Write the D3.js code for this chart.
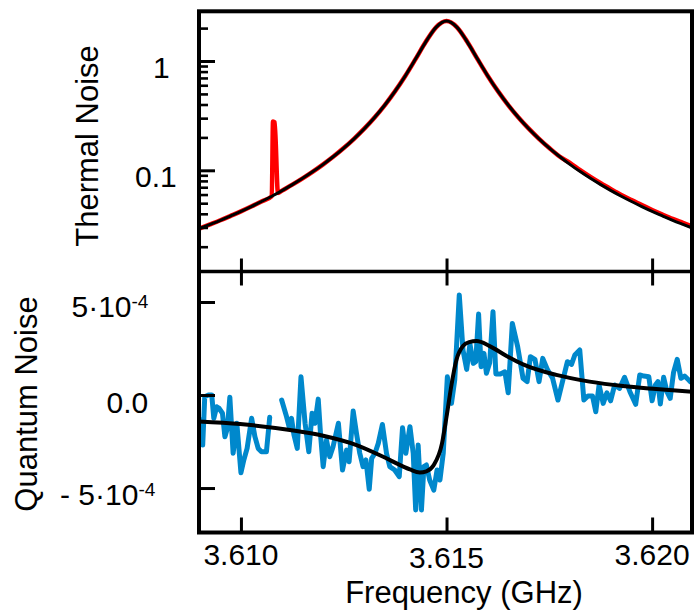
<!DOCTYPE html>
<html><head><meta charset="utf-8">
<script src="https://cdn.jsdelivr.net/npm/d3@7"></script>
<style>
html,body{margin:0;padding:0;background:#fff;}
svg{display:block;}
text{font-family:"Liberation Sans",Arial,Helvetica,sans-serif;fill:#000;}
</style>
</head><body>
<svg id="c" width="694" height="615"></svg>
<script>
// ---------------- DATA ----------------
// Top panel: thermal noise (log scale)
const thermalFreq = [3.60875,3.60900,3.60925,3.60950,3.60975,3.61000,3.61025,3.61050,3.61075,3.61100,
  3.61125,3.61150,3.61175,3.61200,3.61225,3.61250,3.61275,3.61300,3.61325,3.61350,
  3.61375,3.61400,3.61425,3.61450,3.61475,3.61500,3.61525,3.61550,3.61575,3.61600,
  3.61625,3.61650,3.61675,3.61700,3.61725,3.61750,3.61775,3.61800,3.61825,3.61850,
  3.61875,3.61900,3.61925,3.61950,3.61975,3.62000,3.62025,3.62050,3.62075,3.62100];
const thermalFit = [0.0271,0.0294,0.0320,0.0349,0.0383,0.0421,0.0466,0.0518,0.0579,0.0652,
  0.0739,0.0844,0.0973,0.1134,0.1337,0.1598,0.1942,0.2404,0.3043,0.3955,
  0.5298,0.7336,1.047,1.506,2.044,2.32,2.044,1.506,1.047,0.7336,
  0.5298,0.3955,0.3043,0.2404,0.1942,0.1598,0.1337,0.1134,0.0973,0.0844,
  0.0739,0.0652,0.0579,0.0518,0.0466,0.0421,0.0383,0.0349,0.0320,0.0294];
const thermalDataFreq = [3.60875,3.60900,3.60925,3.60950,3.60975,3.61000,3.61025,3.61050,3.61075,
  3.61078,3.61082,3.61090,
  3.61100,3.61125,3.61150,3.61175,3.61200,3.61225,3.61250,3.61275,3.61300,3.61325,3.61350,
  3.61375,3.61400,3.61425,3.61450,3.61475,3.61500,3.61525,3.61550,3.61575,3.61600,
  3.61625,3.61650,3.61675,3.61700,3.61725,3.61750,3.61775,3.61800,3.61825,3.61850,
  3.61875,3.61900,3.61925,3.61950,3.61975,3.62000,3.62025,3.62050,3.62075,3.62100];
const thermalData = [0.0271,0.0294,0.0320,0.0349,0.0383,0.0421,0.0466,0.0518,0.0579,
  0.28,0.275,0.062,
  0.0652,0.0739,0.0844,0.0973,0.1134,0.1337,0.1598,0.1942,0.2404,0.3043,0.3955,
  0.5298,0.7336,1.047,1.506,2.044,2.32,2.044,1.506,1.047,0.7336,
  0.5298,0.3955,0.3043,0.2404,0.1942,0.1598,0.1337,0.1168,0.1002,0.0869,
  0.0761,0.0672,0.0596,0.0534,0.0480,0.0434,0.0394,0.0359,0.0330,0.0303];

// Bottom panel: quantum noise (units of 1e-4), null = missing point
const quantumFreq = [3.60903,3.60907,3.60912,3.60921,3.60929,3.60934,3.60941,3.60947,3.60955,3.60961,
  3.60967,3.60973,3.60981,3.60990,3.61000,3.61007,3.61015,3.61026,3.61034,3.61042,
  3.61050,3.61062,3.61070,3.61085,
  3.61099,3.61111,3.61117,3.61123,3.61129,3.61137,3.61146,3.61156,3.61165,3.61173,
  3.61180,3.61188,3.61194,3.61200,3.61208,3.61216,3.61224,3.61237,3.61247,3.61257,
  3.61263,3.61273,3.61281,3.61289,3.61297,3.61304,3.61312,3.61318,3.61326,3.61334,
  3.61344,3.61354,3.61362,3.61374,3.61385,3.61393,3.61401,3.61411,3.61419,3.61425,
  3.61431,3.61439,3.61445,3.61451,3.61459,3.61469,3.61477,3.61484,3.61492,3.61502,
  3.61512,3.61520,3.61531,3.61540,3.61549,3.61557,3.61565,3.61571,3.61578,3.61584,
  3.61591,3.61597,3.61605,3.61613,3.61620,3.61631,3.61642,3.61650,3.61660,3.61673,
  3.61686,3.61696,3.61704,3.61715,3.61725,3.61734,3.61746,3.61758,3.61771,3.61782,
  3.61794,3.61804,3.61812,3.61824,3.61834,3.61844,3.61855,3.61863,3.61871,3.61881,
  3.61890,3.61899,3.61909,3.61921,3.61933,3.61946,3.61960,3.61970,3.61980,3.61992,
  3.62000,3.62008,3.62014,3.62020,3.62028,3.62036,3.62044,3.62052,3.62061,3.62070,
  3.62079,3.62089,3.62093];
const quantumData = [-1.34,-2.69,-0.09,0.00,0.00,-1.25,-0.63,-0.72,-0.98,-2.24,
  -1.79,-0.12,-3.13,-1.52,-4.18,-3.49,-2.87,-1.25,-2.24,-2.87,
  -3.05,-3.05,-1.20,null,
  -0.27,-1.17,-1.70,-1.25,-2.15,-2.87,0.98,-1.52,-3.05,-0.98,
  -1.52,-0.22,-2.24,-3.85,-2.42,-3.32,-2.78,-1.52,-4.03,-2.96,
  -3.59,-0.86,-2.06,-3.13,-3.85,-3.49,-5.07,-3.40,-3.13,-2.60,
  -1.58,-3.13,-3.85,-4.03,-4.39,-1.76,-3.13,-1.70,-3.13,-6.18,
  -2.69,-6.18,-3.85,-3.76,-4.57,-5.11,-4.03,-4.57,-3.13,0.98,
  -0.45,0.81,5.38,2.42,1.38,2.74,1.70,1.79,4.35,1.52,
  2.24,1.17,1.74,4.48,1.13,1.13,1.25,0.12,3.85,2.60,
  0.90,0.72,2.06,1.92,0.72,1.97,1.34,0.90,-0.27,0.72,
  1.79,1.65,2.15,2.42,-0.27,-0.05,-0.05,-0.90,0.54,-0.45,
  0.12,-0.31,0.54,0.36,0.95,0.18,-0.50,1.08,1.02,0.98,
  -0.31,0.54,0.72,-0.48,0.95,0.18,-0.18,1.20,1.92,0.90,
  1.02,0.81,0.72];
const quantumFitFreq = [3.60898,3.60998,3.61119,3.61200,3.61281,3.61346,3.61395,3.61411,3.61435,3.61451,
  3.61469,3.61489,3.61500,3.61512,3.61524,3.61540,3.61555,3.61573,3.61605,3.61646,
  3.61686,3.61767,3.61848,3.61929,3.62010,3.62097];
const quantumFit = [-1.42,-1.56,-1.88,-2.19,-2.69,-3.32,-3.85,-4.00,-4.16,-4.10,
  -3.76,-2.60,-1.17,0.54,1.88,2.63,2.84,2.90,2.63,2.10,
  1.65,1.08,0.72,0.48,0.32,0.17];

// Ticks
const freqTicks = [3.610, 3.615, 3.620];
const freqTickLabels = ["3.610", "3.615", "3.620"];
const thermalTicks = [0.1, 1];
const thermalTickLabels = ["0.1", "1"];
const thermalMinorTicks = [0.02,0.03,0.04,0.05,0.06,0.07,0.08,0.09,0.2,0.3,0.4,0.5,0.6,0.7,0.8,0.9,2];
const quantumTicks = [5, 0, -5];
const quantumTickMain = ["5·10", "0.0", "- 5·10"];
const quantumTickExp = ["-4", "", "-4"];

// ---------------- LAYOUT ----------------
const L = {left: 199, right: 692, top: 11.3, mid: 271.5, bottom: 532.5};
const layout = {
  freqLabelBaseline: [565, 568, 565],
  thermalLabelX: [135, 153],
  thermalLabelDy: [16.5, 17.3],
  quantumLabelX: [71.5, 106.5, 60],
  quantumLabelDy: [14.5, 18, 16.7]
};

const svg = d3.select("#c");
const x = d3.scaleLinear().domain([3.60898, 3.62097]).range([L.left, L.right]);
const yT = d3.scaleLog().domain([0.01186, 2.85]).range([L.mid, L.top]);
const yQ = d3.scaleLinear().domain([-7.39, 6.64]).range([L.bottom, L.mid]);

const defs = svg.append("defs");
defs.append("clipPath").attr("id","clipT").append("rect")
  .attr("x", L.left).attr("y", L.top).attr("width", L.right - L.left).attr("height", L.mid - L.top);
defs.append("clipPath").attr("id","clipQ").append("rect")
  .attr("x", L.left).attr("y", L.mid).attr("width", L.right - L.left).attr("height", L.bottom - L.mid);

// ---- top panel lines
const lineT = d3.line().x(d => x(d[0])).y(d => yT(d[1])).curve(d3.curveMonotoneX);
const gT = svg.append("g").attr("clip-path","url(#clipT)");
gT.append("path").datum(d3.zip(thermalDataFreq, thermalData)).attr("d", lineT)
  .attr("fill","none").attr("stroke","#ff0000").attr("stroke-width",4.5).attr("stroke-linejoin","round");
gT.append("path").datum(d3.zip(thermalFreq, thermalFit)).attr("d", lineT)
  .attr("fill","none").attr("stroke","#000").attr("stroke-width",3);

// ---- bottom panel lines
const gQ = svg.append("g").attr("clip-path","url(#clipQ)");
const lineQ = d3.line().defined(d => d[1] !== null).x(d => x(d[0])).y(d => yQ(d[1]));
gQ.append("path").datum(d3.zip(quantumFreq, quantumData)).attr("d", lineQ)
  .attr("fill","none").attr("stroke","#0088cc").attr("stroke-width",5)
  .attr("stroke-linejoin","round").attr("stroke-linecap","round");
const lineQF = d3.line().x(d => x(d[0])).y(d => yQ(d[1])).curve(d3.curveMonotoneX);
gQ.append("path").datum(d3.zip(quantumFitFreq, quantumFit)).attr("d", lineQF)
  .attr("fill","none").attr("stroke","#000").attr("stroke-width",4);

// ---- axes (tick marks)
function styleAxis(g, w) {
  g.select(".domain").remove();
  g.selectAll(".tick line").attr("stroke","#000").attr("stroke-width", w);
  g.selectAll(".tick text").remove();
}
svg.append("g").attr("transform",`translate(0,${L.mid})`)
  .call(d3.axisTop(x).tickValues(freqTicks).tickSize(13).tickFormat("")).call(g => styleAxis(g, 3));
svg.append("g").attr("transform",`translate(0,${L.mid})`)
  .call(d3.axisBottom(x).tickValues(freqTicks).tickSize(14).tickFormat("")).call(g => styleAxis(g, 3));
svg.append("g").attr("transform",`translate(0,${L.bottom})`)
  .call(d3.axisTop(x).tickValues(freqTicks).tickSize(15).tickFormat("")).call(g => styleAxis(g, 3));
svg.append("g").attr("transform",`translate(${L.left},0)`)
  .call(d3.axisRight(yT).tickValues(thermalTicks).tickSize(16).tickFormat("")).call(g => styleAxis(g, 3));
svg.append("g").attr("transform",`translate(${L.left},0)`)
  .call(d3.axisRight(yT).tickValues(thermalMinorTicks).tickSize(9).tickFormat("")).call(g => styleAxis(g, 2.6));
svg.append("g").attr("transform",`translate(${L.left},0)`)
  .call(d3.axisRight(yQ).tickValues(quantumTicks).tickSize(16).tickFormat("")).call(g => styleAxis(g, 3));

// ---- frame
svg.append("rect").attr("x", L.left).attr("y", L.top).attr("width", L.right - L.left).attr("height", L.bottom - L.top)
  .attr("fill","none").attr("stroke","#000").attr("stroke-width",4);
svg.append("line").attr("x1", L.left).attr("x2", L.right).attr("y1", L.mid).attr("y2", L.mid)
  .attr("stroke","#000").attr("stroke-width",3.5);

// ---- tick labels
const tickFont = 30;
freqTicks.forEach((f, i) => {
  svg.append("text").attr("x", x(f)).attr("y", layout.freqLabelBaseline[i])
    .attr("text-anchor","middle").attr("font-size", tickFont).text(freqTickLabels[i]);
});
thermalTicks.forEach((v, i) => {
  svg.append("text").attr("x", layout.thermalLabelX[i]).attr("y", yT(v) + layout.thermalLabelDy[i])
    .attr("font-size", tickFont).text(thermalTickLabels[i]);
});
quantumTicks.forEach((v, i) => {
  const t = svg.append("text").attr("x", layout.quantumLabelX[i]).attr("y", yQ(v) + layout.quantumLabelDy[i])
    .attr("font-size", tickFont);
  t.append("tspan").text(quantumTickMain[i]);
  if (quantumTickExp[i]) t.append("tspan").attr("font-size", 19).attr("dy", -9).text(quantumTickExp[i]);
});

// ---- axis titles
svg.append("text").attr("x", 464).attr("y", 603).attr("text-anchor","middle").attr("font-size", 31)
  .text("Frequency (GHz)");
svg.append("text").attr("transform","translate(98,146) rotate(-90)").attr("text-anchor","middle")
  .attr("font-size", 31).text("Thermal Noise");
svg.append("text").attr("transform","translate(37,404) rotate(-90)").attr("text-anchor","middle")
  .attr("font-size", 31).text("Quantum Noise");
</script>
</body></html>
